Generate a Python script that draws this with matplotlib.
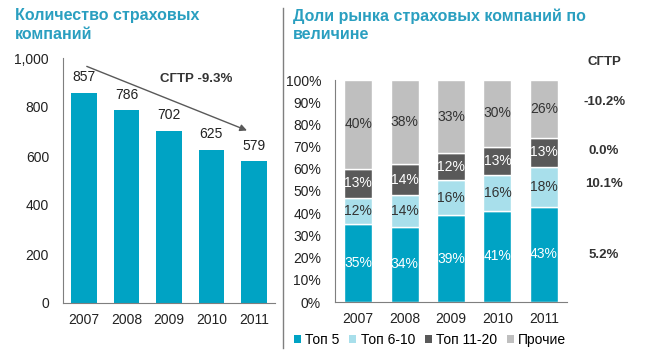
import numpy as np
import matplotlib.pyplot as plt
from matplotlib.patches import Patch

plt.rcParams['font.family'] = ['Liberation Sans', 'DejaVu Sans']

years = ['2007', '2008', '2009', '2010', '2011']
companies = [857, 786, 702, 625, 579]
cagr_count = 'СГТР -9.3%'

segments = ['Топ 5', 'Топ 6-10', 'Топ 11-20', 'Прочие']
top5 = [35, 34, 39, 41, 43]
top6_10 = [12, 14, 16, 16, 18]
top11_20 = [13, 14, 12, 13, 13]
others = [40, 38, 33, 30, 26]
seg_cagr = ['5.2%', '10.1%', '0.0%', '-10.2%']

teal = '#00a3c4'
colors = [teal, '#a8dfeb', '#595959', '#bfbfbf']
label_colors = ['white', '#333333', 'white', '#333333']
title_color = '#2a9fc0'
text_color = '#222222'
spine_color = '#7f7f7f'

fig = plt.figure(figsize=(6.53, 3.54), dpi=100)
W, H = 653, 354

def px_axes(x0, y0, x1, y1):
    return fig.add_axes([x0 / W, 1 - y1 / H, (x1 - x0) / W, (y1 - y0) / H])

# left chart
ax1 = px_axes(63, 58, 275, 303)
x = np.arange(len(years))
ax1.bar(x, companies, width=0.6, color=teal)
for xi, v in zip(x, companies):
    ax1.text(xi, v + 35, str(v), ha='center', va='bottom', fontsize=10, color=text_color)
ax1.set_xlim(-0.5, 4.5)
ax1.set_ylim(0, 1000)
ax1.set_yticks([0, 200, 400, 600, 800, 1000])
ax1.set_yticklabels(['0', '200', '400', '600', '800', '1,000'])
ax1.set_xticks(x)
ax1.set_xticklabels(years)
ax1.annotate('', xy=(3.9, 700), xytext=(0.0, 970),
             arrowprops=dict(arrowstyle='-|>', color='#595959', lw=1, mutation_scale=10))
ax1.text(2.65, 915, cagr_count, ha='center', va='center', fontsize=9.5,
         fontweight='bold', color='#333333')

# right chart
ax2 = px_axes(335, 80, 567, 302)
bottom = np.zeros(len(years))
for vals, col, lc in zip([top5, top6_10, top11_20, others], colors, label_colors):
    ax2.bar(x, vals, width=0.6, bottom=bottom, color=col, edgecolor='white', linewidth=1)
    for xi, b, v in zip(x, bottom, vals):
        ax2.text(xi, b + v / 2, f'{v}%', ha='center', va='center', fontsize=10, color=lc)
    bottom += np.array(vals)
ax2.set_xlim(-0.5, 4.5)
ax2.set_ylim(0, 100)
ax2.set_yticks(range(0, 101, 10))
ax2.set_yticklabels([f'{t}%' for t in range(0, 101, 10)])
ax2.set_xticks(x)
ax2.set_xticklabels(years)

# CAGR column
cagr_y = [21, 53, 68, 90]
ax2.text(5.3, 108, 'СГТР', ha='center', va='center', fontsize=9.5,
         fontweight='bold', color='#333333', clip_on=False)
for cy, c in zip(cagr_y, seg_cagr):
    ax2.text(5.3, cy, c, ha='center', va='center', fontsize=9.5,
             fontweight='bold', color='#333333', clip_on=False)

for ax in (ax1, ax2):
    for s in ('top', 'right'):
        ax.spines[s].set_visible(False)
    ax.spines['left'].set_color(spine_color)
    ax.spines['bottom'].set_color(spine_color)
    ax.tick_params(axis='both', length=0, labelsize=10, colors=text_color, pad=7)
    ax.tick_params(axis='y', pad=10)

# legend
handles = [Patch(facecolor=c) for c in colors]
fig.legend(handles, segments, loc='center', bbox_to_anchor=(430 / W, 1 - 340 / H),
           ncol=4, frameon=False, fontsize=10, handlelength=0.5, handleheight=0.5,
           handletextpad=0.3, columnspacing=0.7)

# titles
fig.text(15 / W, 1 - 8 / H, 'Количество страховых\nкомпаний', ha='left', va='top',
         fontsize=11.5, fontweight='bold', color=title_color, linespacing=1.3)
fig.text(293 / W, 1 - 8 / H, 'Доли рынка страховых компаний по\nвеличине', ha='left', va='top',
         fontsize=11.5, fontweight='bold', color=title_color, linespacing=1.3)

# separator
fig.add_artist(plt.Line2D([283 / W, 283 / W], [1 - 8 / H, 1 - 348 / H], color=spine_color, lw=1))

fig.savefig('out.png', dpi=100)
